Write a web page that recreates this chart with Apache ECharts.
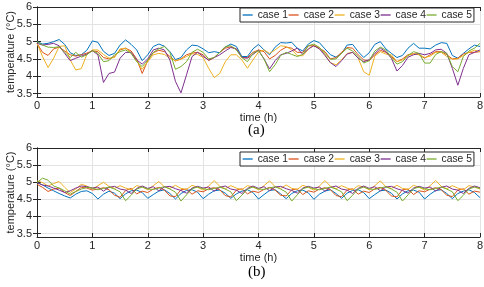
<!DOCTYPE html>
<html>
<head>
<meta charset="utf-8">
<script src="https://cdn.jsdelivr.net/npm/echarts@6/dist/echarts.min.js"></script>
<style>html,body{margin:0;padding:0;background:#fff}#c{width:484px;height:287px}</style>
</head>
<body>
<div id="c"></div>
<script>
// ---- data (time step 0.1 h, 0 .. 8 h) ----
const seriesNames = ['case 1', 'case 2', 'case 3', 'case 4', 'case 5'];
const xTicks = [0, 1, 2, 3, 4, 5, 6, 7, 8];
const yTicks = [3.5, 4, 4.5, 5, 5.5, 6];

// (a)
const a_case1 = [5.00,4.93,4.95,5.00,5.06,4.92,4.68,4.60,4.62,4.75,5.02,
 4.98,4.72,4.60,4.66,4.90,5.05,4.92,4.76,4.45,4.62,
 4.86,4.93,4.87,4.71,4.48,4.54,4.76,4.90,4.88,4.79,
 4.68,4.71,4.68,4.84,4.93,4.86,4.57,4.57,4.79,4.92,
 4.76,4.62,4.84,4.97,4.96,4.98,4.81,4.73,4.93,5.03,
 4.97,4.79,4.62,4.55,4.66,4.90,4.92,4.71,4.54,4.68,
 4.92,5.00,4.79,4.66,4.54,4.60,4.81,4.95,4.81,4.81,
 4.79,4.90,4.97,4.95,4.60,4.52,4.66,4.79,4.90,4.86];
const a_case2 = [4.95,4.69,4.60,4.79,4.84,4.73,4.62,4.58,4.62,4.67,4.73,
 4.71,4.54,4.50,4.57,4.76,4.81,4.73,4.50,4.08,4.45,
 4.68,4.75,4.71,4.57,4.44,4.50,4.62,4.67,4.69,4.62,
 4.45,4.54,4.69,4.81,4.85,4.79,4.54,4.54,4.69,4.76,
 4.71,4.50,4.60,4.75,4.84,4.81,4.69,4.69,4.88,4.88,
 4.81,4.71,4.50,4.54,4.69,4.83,4.81,4.62,4.47,4.45,
 4.62,4.75,4.69,4.57,4.42,4.50,4.62,4.65,4.62,4.52,
 4.62,4.71,4.71,4.62,4.50,4.52,4.64,4.69,4.69,4.71];
const a_case3 = [4.95,4.57,4.25,4.52,4.86,4.88,4.47,4.18,4.22,4.63,4.76,
 4.76,4.63,4.52,4.54,4.79,4.81,4.68,4.44,4.20,4.42,
 4.62,4.66,4.63,4.52,4.45,4.49,4.57,4.65,4.63,4.54,
 4.23,3.96,4.08,4.42,4.62,4.62,4.47,4.23,4.47,4.70,
 4.76,4.66,4.76,4.88,4.86,4.76,4.60,4.59,4.78,4.90,
 4.83,4.62,4.39,4.33,4.47,4.66,4.69,4.52,4.13,4.03,
 4.58,4.71,4.64,4.62,4.42,4.47,4.60,4.65,4.63,4.54,
 4.58,4.69,4.69,4.57,4.49,4.50,4.60,4.69,4.75,4.71];
const a_case4 = [4.95,4.90,4.92,4.95,4.88,4.66,4.45,4.52,4.58,4.64,4.74,
 4.62,3.82,4.08,4.12,4.52,4.69,4.69,4.47,4.35,4.50,
 4.76,4.81,4.76,4.47,3.85,3.52,4.04,4.57,4.69,4.57,
 4.47,4.54,4.62,4.73,4.83,4.79,4.54,4.52,4.63,4.75,
 4.50,4.21,4.45,4.62,4.66,4.73,4.81,4.63,4.79,4.88,
 4.79,4.60,4.39,4.28,4.45,4.64,4.69,4.52,4.42,4.48,
 4.66,4.81,4.71,4.52,4.15,4.31,4.55,4.62,4.66,4.62,
 4.66,4.76,4.78,4.66,4.23,3.74,4.23,4.62,4.69,4.76];
const a_case5 = [5.00,4.90,4.84,4.83,4.85,4.69,4.54,4.69,4.55,4.62,4.74,
 4.66,4.42,4.45,4.62,4.71,4.76,4.66,4.42,4.28,4.46,
 4.69,4.79,4.86,4.69,4.20,4.28,4.42,4.69,4.78,4.69,
 4.50,4.54,4.69,4.86,4.88,4.76,4.54,4.42,4.66,4.74,
 4.50,4.13,4.33,4.60,4.69,4.63,4.57,4.63,4.88,4.93,
 4.83,4.66,4.49,4.50,4.66,4.81,4.73,4.57,4.38,4.45,
 4.73,4.84,4.76,4.54,4.35,4.42,4.60,4.71,4.66,4.38,
 4.38,4.63,4.71,4.66,4.28,4.13,4.57,4.73,4.81,4.95];

// (b)
const b_case1 = [4.99,4.92,4.83,4.75,4.67,4.60,4.54,4.65,4.73,4.75,4.67,
 4.51,4.65,4.74,4.68,4.52,4.66,4.75,4.77,4.70,4.53,
 4.64,4.74,4.78,4.67,4.51,4.67,4.76,4.78,4.71,4.52,
 4.65,4.75,4.77,4.68,4.53,4.66,4.74,4.78,4.70,4.51,
 4.64,4.76,4.78,4.66,4.52,4.67,4.75,4.77,4.69,4.50,
 4.65,4.74,4.78,4.67,4.53,4.68,4.76,4.78,4.70,4.52,
 4.64,4.75,4.77,4.68,4.51,4.66,4.75,4.77,4.71,4.51,
 4.65,4.76,4.78,4.67,4.52,4.67,4.74,4.78,4.70,4.55];
const b_case2 = [4.94,4.85,4.73,4.80,4.83,4.70,4.61,4.73,4.85,4.83,4.77,
 4.80,4.84,4.78,4.62,4.56,4.76,4.82,4.66,4.74,4.70,
 4.80,4.85,4.77,4.60,4.58,4.78,4.80,4.65,4.75,4.72,
 4.81,4.84,4.78,4.61,4.57,4.77,4.81,4.66,4.74,4.70,
 4.79,4.85,4.77,4.62,4.60,4.78,4.80,4.64,4.75,4.71,
 4.80,4.84,4.78,4.61,4.58,4.77,4.81,4.65,4.74,4.70,
 4.81,4.85,4.76,4.60,4.57,4.78,4.80,4.64,4.75,4.72,
 4.80,4.84,4.78,4.62,4.58,4.77,4.81,4.65,4.74,4.71];
const b_case3 = [5.04,4.99,4.89,4.96,5.02,4.85,4.70,4.80,4.94,4.89,4.80,
 4.90,5.00,4.88,4.82,4.90,4.83,4.78,4.90,4.86,4.78,
 4.90,5.02,4.87,4.82,4.91,4.82,4.79,4.91,4.85,4.77,
 4.89,5.05,4.88,4.81,4.90,4.83,4.78,4.90,4.86,4.78,
 4.90,5.04,4.87,4.82,4.92,4.82,4.79,4.91,4.85,4.77,
 4.89,5.05,4.88,4.81,4.90,4.83,4.78,4.90,4.86,4.78,
 4.90,5.04,4.87,4.82,4.91,4.82,4.79,4.91,4.85,4.77,
 4.90,5.05,4.88,4.81,4.90,4.83,4.78,4.90,4.86,4.80];
const b_case4 = [4.99,4.92,4.89,4.83,4.77,4.70,4.75,4.83,4.89,4.87,4.83,
 4.86,4.74,4.85,4.88,4.80,4.77,4.67,4.82,4.89,4.82,
 4.87,4.75,4.86,4.88,4.81,4.76,4.68,4.83,4.88,4.83,
 4.86,4.74,4.85,4.89,4.80,4.77,4.67,4.82,4.89,4.82,
 4.87,4.75,4.86,4.88,4.81,4.76,4.68,4.83,4.88,4.83,
 4.86,4.74,4.85,4.89,4.80,4.77,4.67,4.82,4.89,4.82,
 4.87,4.75,4.86,4.88,4.81,4.76,4.68,4.83,4.88,4.83,
 4.86,4.74,4.85,4.89,4.80,4.77,4.67,4.82,4.89,4.84];
const b_case5 = [4.99,5.12,5.06,4.89,4.83,4.75,4.65,4.73,4.80,4.85,4.83,
 4.78,4.82,4.86,4.80,4.72,4.46,4.62,4.80,4.86,4.80,
 4.79,4.83,4.87,4.80,4.71,4.45,4.63,4.81,4.86,4.81,
 4.78,4.82,4.86,4.80,4.72,4.46,4.62,4.80,4.86,4.80,
 4.79,4.83,4.87,4.80,4.71,4.45,4.63,4.81,4.86,4.81,
 4.78,4.82,4.86,4.80,4.72,4.46,4.62,4.80,4.86,4.80,
 4.79,4.83,4.87,4.80,4.71,4.45,4.63,4.81,4.86,4.81,
 4.78,4.82,4.86,4.80,4.72,4.46,4.62,4.80,4.86,4.82];

const timeStep = 0.1;
const colors = ['#0072BD', '#D95319', '#EDB120', '#7E2F8E', '#77AC30'];

// ---- chart ----
const toPairs = arr => arr.map((v, i) => [Math.round(i * timeStep * 10) / 10, v]);
const dataA = [a_case1, a_case2, a_case3, a_case4, a_case5];
const dataB = [b_case1, b_case2, b_case3, b_case4, b_case5];

const axisCol = '#262626';
const font = 'Liberation Sans, Arial, sans-serif';
const grids = [
  { left: 37, right: 4, top: 7, height: 90, containLabel: false, outerBoundsMode: 'none' },
  { left: 37, right: 4, top: 148, height: 89, containLabel: false, outerBoundsMode: 'none' }
];

function xAxes(gi) {
  return [
    { type: 'value', gridIndex: gi, min: 0, max: 8, interval: 1,
      name: 'time (h)', nameLocation: 'middle', nameGap: 15, nameMoveOverlap: false,
      nameTextStyle: { fontFamily: font, fontSize: 11, color: axisCol },
      axisLine: { lineStyle: { color: axisCol, width: 1 } },
      axisTick: { inside: true, length: 4, lineStyle: { color: axisCol } },
      axisLabel: { fontFamily: font, fontSize: 11, color: axisCol, margin: 3 },
      splitLine: { show: true, lineStyle: { color: '#e3e3e3', width: 1 } } },
    { type: 'value', gridIndex: gi, position: 'top', min: 0, max: 8, interval: 1,
      axisLine: { show: true, lineStyle: { color: axisCol, width: 1 } },
      axisTick: { inside: true, length: 4, lineStyle: { color: axisCol } },
      axisLabel: { show: false }, splitLine: { show: false } }
  ];
}
function yAxes(gi) {
  return [
    { type: 'value', gridIndex: gi, min: 3.4, max: 6,
      name: 'temperature (°C)', nameLocation: 'middle', nameGap: 21, nameRotate: 90, nameMoveOverlap: false,
      nameTextStyle: { fontFamily: font, fontSize: 11, color: axisCol },
      axisLine: { show: true, lineStyle: { color: axisCol, width: 1 } },
      axisTick: { inside: true, length: 4, customValues: yTicks, lineStyle: { color: axisCol } },
      axisLabel: { fontFamily: font, fontSize: 11, color: axisCol, margin: 5, customValues: yTicks },
      splitLine: { show: true, lineStyle: { color: '#e3e3e3', width: 1 } } },
    { type: 'value', gridIndex: gi, position: 'right', min: 3.4, max: 6,
      axisLine: { show: true, lineStyle: { color: axisCol, width: 1 } },
      axisTick: { inside: true, length: 4, customValues: yTicks, lineStyle: { color: axisCol } },
      axisLabel: { show: false }, splitLine: { show: false } }
  ];
}

const series = [];
[dataA, dataB].forEach((set, gi) => {
  set.forEach((arr, si) => {
    series.push({
      name: seriesNames[si], type: 'line', xAxisIndex: gi * 2, yAxisIndex: gi * 2,
      data: toPairs(arr), showSymbol: false, symbol: 'none',
      lineStyle: { width: 1, color: colors[si] }, itemStyle: { color: colors[si] },
      z: 2 + si, silent: true
    });
  });
});

function legend(top) {
  return {
    left: 240, top: top, width: 400, orient: 'horizontal',
    data: seriesNames.map((n, i) => ({ name: n, itemStyle: { opacity: 0 }, lineStyle: { color: colors[i], width: 1.3 } })),
    itemWidth: 10, itemHeight: 7, itemGap: 0,
    padding: [2, 2, 2, 2], borderColor: axisCol, borderWidth: 1,
    backgroundColor: '#fff', selectedMode: false,
    textStyle: { fontFamily: font, fontSize: 10.3, color: axisCol }
  };
}

const chart = echarts.init(document.getElementById('c'), null, { renderer: 'canvas' });
chart.setOption({
  animation: false,
  color: colors,
  grid: grids,
  xAxis: [...xAxes(0), ...xAxes(1)],
  yAxis: [...yAxes(0), ...yAxes(1)],
  legend: [legend(8), legend(152)],
  series: series,
  graphic: [
    { type: 'text', left: 248, top: 123, style: { text: '(a)', font: '15px "Liberation Serif", serif', fill: '#000' } },
    { type: 'text', left: 248, top: 265, style: { text: '(b)', font: '15px "Liberation Serif", serif', fill: '#000' } }
  ]
});
</script>
</body>
</html>
